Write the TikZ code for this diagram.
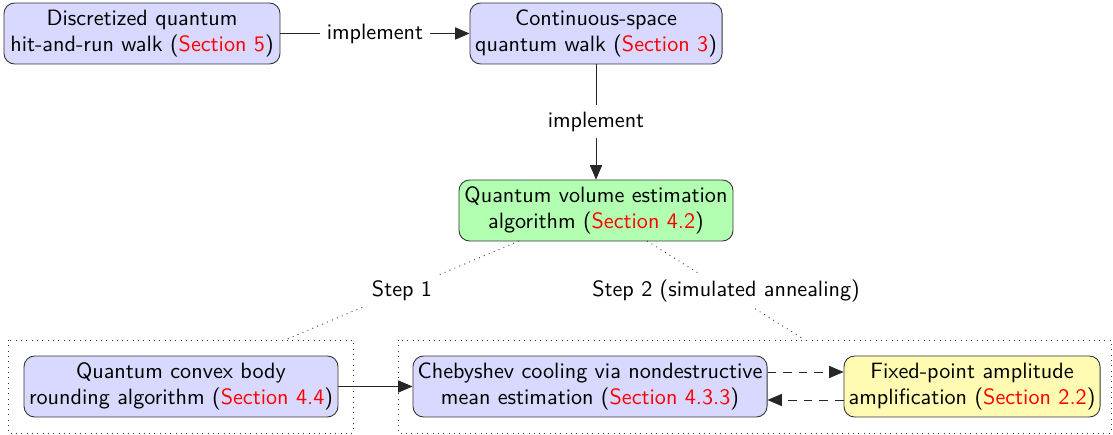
\documentclass[tikz,border=0pt]{standalone}
\usetikzlibrary{arrows.meta}
\renewcommand{\familydefault}{\sfdefault}
\begin{document}
\begin{tikzpicture}[x=0.451pt,y=-0.451pt,
  box/.style={draw=black!80, rounded corners=4.8pt, align=center, font=\sffamily, inner sep=2pt, minimum height=27.5pt},
  bluebox/.style={box, fill=blue!15},
  greenbox/.style={box, fill=green!30},
  yellowbox/.style={box, fill=yellow!30},
  arr/.style={draw=black!85, -{Triangle[length=6.5pt,width=5.5pt]}},
  dashedarr/.style={arr, dash pattern=on 4pt off 3pt},
  lbl/.style={fill=white, font=\sffamily, inner sep=3pt},
  grp/.style={draw=black!80, dotted}]
\useasboundingbox (0,0) rectangle (1113,435);
\node[bluebox, minimum width=124.5pt] (A) at (142,33.5) {Discretized quantum\\hit-and-run walk (\textcolor{red}{Section 5})};
\node[bluebox, minimum width=113.7pt] (B) at (596,33.5) {Continuous-space\\quantum walk (\textcolor{red}{Section 3})};
\node[greenbox, minimum width=123.6pt] (C) at (596,210.5) {Quantum volume estimation\\algorithm (\textcolor{red}{Section 4.2})};
\node[bluebox, minimum width=141.6pt] (D) at (181,386.5) {Quantum convex body\\rounding algorithm (\textcolor{red}{Section 4.4})};
\node[bluebox, minimum width=159.7pt] (E) at (590,386.5) {Chebyshev cooling via nondestructive\\mean estimation (\textcolor{red}{Section 4.3.3})};
\node[yellowbox, minimum width=115.5pt] (F) at (972,386.5) {Fixed-point amplitude\\amplification (\textcolor{red}{Section 2.2})};
\draw[grp] (8,340) rectangle (353,433);
\draw[grp] (398,340) rectangle (1111,433);
\coordinate (g1) at (285,340);
\coordinate (g2) at (805,340);
\coordinate (c1) at (519,241);
\coordinate (c2) at (647,241);
\draw[arr] (A) -- node[lbl] {implement} (B);
\draw[arr] (B) -- node[lbl] {implement} (C);
\draw[draw=black!80, dotted] (c1) -- node[lbl] {Step 1} (g1);
\draw[draw=black!80, dotted] (c2) -- node[lbl] {Step 2 (simulated annealing)} (g2);
\draw[arr] (D) -- (E);
\draw[dashedarr] (E.east |- 0,372) -- (F.west |- 0,372);
\draw[dashedarr] (F.west |- 0,400) -- (E.east |- 0,400);
\end{tikzpicture}
\end{document}
